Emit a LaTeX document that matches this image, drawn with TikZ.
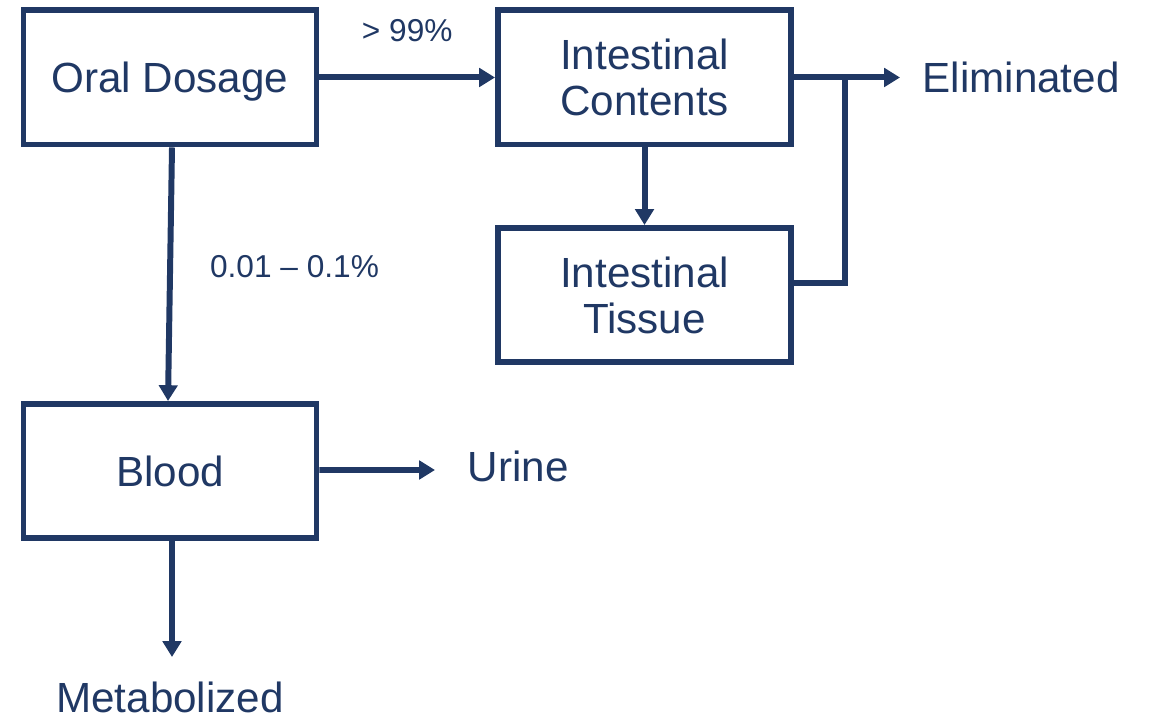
\documentclass[tikz,border=0pt]{standalone}
\usepackage{fontspec}
\setmainfont{Liberation Sans}
\usepackage{tikz}
\usetikzlibrary{arrows.meta}
\usetikzlibrary{positioning}
\usetikzlibrary{calc}
\definecolor{navy}{RGB}{32,56,100}
\tikzset{basic box/.style={draw,rectangle,line width=1.7pt}}
\tikzset{box/.style={basic box,minimum width=2.93cm,minimum height=1.34cm,
                     align=center,text depth=0pt,font=\fontsize{12}{14}\selectfont}}
\tikzset{flow/.style={draw,
                      line width=1.7pt,
                      -{Triangle[length=4.5pt,width=5.2pt]}}}

\begin{document}
\begin{tikzpicture}
      [
      color=navy,
      out label/.style={font=\fontsize{12}{14}\selectfont,inner sep=0pt},
      rate label/.style={font=\fontsize{9}{11}\selectfont,inner sep=0pt},
      ]
      \useasboundingbox (0,0) rectangle (11.5,-7.17);

      % compartments
      \node [box] (oral) at (1.70,-0.775) {Oral Dosage};
      \node [box] (contents) at (6.445,-0.775) {Intestinal\\[-1pt]Contents};
      \node [box] (tissue) at (6.445,-2.95) {Intestinal\\[-1pt]Tissue};
      \node [box] (blood) at (1.70,-4.71) {Blood};

      % outlets
      \node [out label,anchor=west] (elim) at (9.22,-0.77) {Eliminated};
      \node [out label,anchor=west] (urine) at (4.67,-4.66) {Urine};
      \node [out label] (metab) at (1.70,-6.97) {Metabolized};
      \coordinate (elim end) at (9.00,-0.775);
      \coordinate (urine end) at (4.35,-4.70);
      \coordinate (metab end) at (1.72,-6.57);
      \coordinate (join) at (8.45,-0.775);

      % flows
      \path [flow] (oral.east) -- node [rate label,above=0.33cm] (big) {>\ 99\%} (contents.west);
      \path [flow] ($(oral.south)+(0.02,0)$) -- ($(blood.north)+(-0.02,0)$)
      node [rate label,pos=0.47,anchor=west,xshift=0.37cm] (small) {0.01 – 0.1\%};
      \path [flow] (contents.south) -- (tissue.north);
      \path [flow] (contents.east) -- (elim end);
      \draw [line width=1.7pt] ($(tissue.east)+(0,0.12)$) -| (join);
      \path [flow] ($(blood.east)+(0,0.01)$) -- (urine end);
      \path [flow] ($(blood.south)+(0.02,0)$) -- (metab end);

    \end{tikzpicture}
\end{document}
